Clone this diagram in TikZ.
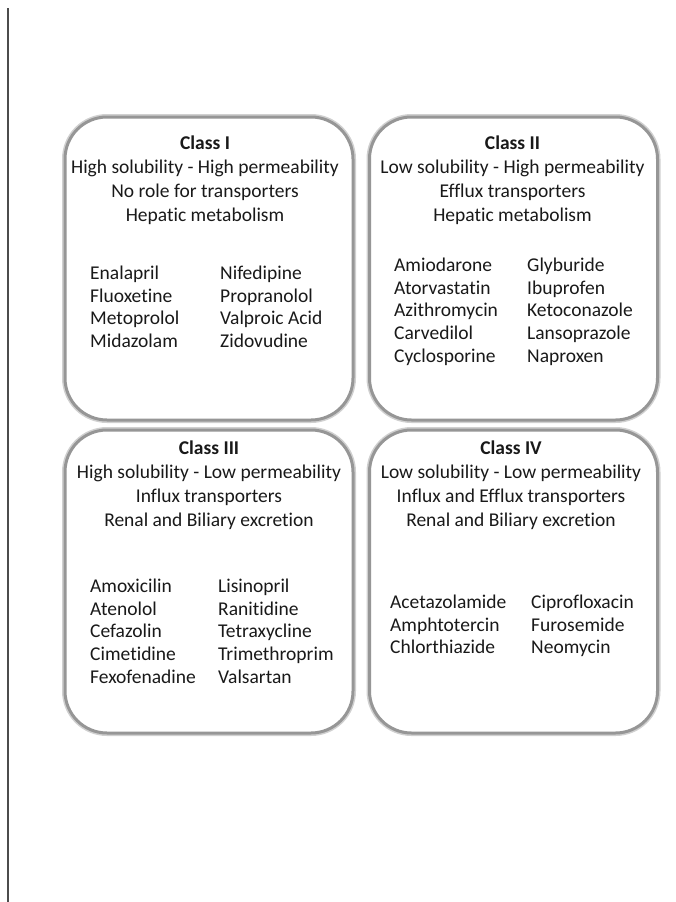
\documentclass[tikz,border=0pt]{standalone}
\usepackage{fontspec}
\setmainfont{Carlito}[Ligatures=NoCommon]
\definecolor{bcsGray}{RGB}{150,150,150}
\definecolor{bcsText}{RGB}{25,25,25}
\usetikzlibrary{positioning}

\begin{document}
\begin{tikzpicture}[x=1pt, y=-1pt,
  classbox/.style={draw=bcsGray, line width=3pt, rounded corners=42pt,
                   minimum width=288pt, minimum height=303pt, fill=white,
                   preaction={draw=bcsGray!45, line width=6pt}},
  head/.style={align=center, inner sep=0pt, text=bcsText,
               font=\fontsize{19.5}{24}\selectfont},
  drugs/.style={align=left, inner sep=0pt, anchor=north west, text=bcsText,
                font=\fontsize{19.5}{22.6}\selectfont}
]
  \useasboundingbox (0,0) rectangle (675,902);
  \draw[line width=1.5pt, black!70] (8,8) -- (8,902);

  % the four classes
  \node[classbox] (c1) at (209,268.5) {};
  \node[classbox] (c2) at (513.5,268.5) {};
  \node[classbox] (c3) at (209,581.5) {};
  \node[classbox] (c4) at (513.5,581.5) {};

  \node[head] (h1) at (205,180) {\textbf{Class I}\\
                                 High solubility - High permeability\\
                                 No role for transporters\\
                                 Hepatic metabolism};
  \node[head] (h2) at (512.5,180) {\textbf{Class II}\\
                                   Low solubility - High permeability\\
                                   Efflux transporters\\
                                   Hepatic metabolism};
  \node[head] (h3) at (209,485) {\textbf{Class III}\\
                                 High solubility - Low permeability\\
                                 Influx transporters\\
                                 Renal and Biliary excretion};
  \node[head] (h4) at (511,485) {\textbf{Class IV}\\
                                 Low solubility - Low permeability\\
                                 Influx and Efflux transporters\\
                                 Renal and Biliary excretion};

  % drug lists
  \node[drugs] (d1a) at (90,266)  {Enalapril\\ Fluoxetine\\ Metoprolol\\ Midazolam};
  \node[drugs] (d1b) at (220,266) {Nifedipine\\ Propranolol\\ Valproic Acid\\ Zidovudine};
  \node[drugs] (d2a) at (394,258) {Amiodarone\\ Atorvastatin\\ Azithromycin\\ Carvedilol\\ Cyclosporine};
  \node[drugs] (d2b) at (527,258) {Glyburide\\ Ibuprofen\\ Ketoconazole\\ Lansoprazole\\ Naproxen};
  \node[drugs] (d3a) at (90,579)  {Amoxicilin\\ Atenolol\\ Cefazolin\\ Cimetidine\\ Fexofenadine};
  \node[drugs] (d3b) at (218,579) {Lisinopril\\ Ranitidine\\ Tetraxycline\\ Trimethroprim\\ Valsartan};
  \node[drugs] (d4a) at (390,595) {Acetazolamide\\ Amphtotercin\\ Chlorthiazide};
  \node[drugs] (d4b) at (531,595) {Ciprofloxacin\\ Furosemide\\ Neomycin};
\end{tikzpicture}
\end{document}
